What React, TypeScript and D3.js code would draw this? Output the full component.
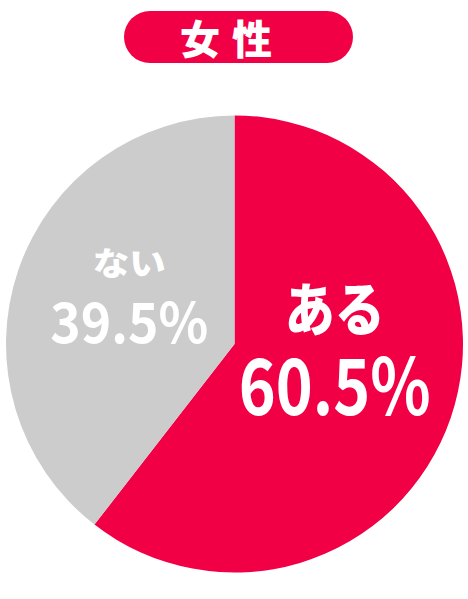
import React, { useEffect, useRef } from 'react';
import * as d3 from 'd3';

// data
const title = '女性';
const categories = ['ある', 'ない'];
const values = [60.5, 39.5];
const colors = ['#F20045', '#CCCCCC'];

const W = 468;
const H = 599;

const App: React.FC = () => {
  const svgRef = useRef<SVGSVGElement>(null);

  useEffect(() => {
    if (!svgRef.current) return;
    const svg = d3.select(svgRef.current);
    svg.selectAll('*').remove();

    const font = '"Noto Sans CJK JP", "Noto Sans", sans-serif';
    const cx = 234.5;
    const cy = 344;
    const radius = 228.5;

    // Title pill
    const head = svg.append('g');
    head.append('rect')
      .attr('x', 124)
      .attr('y', 11)
      .attr('width', 229)
      .attr('height', 52)
      .attr('rx', 26)
      .attr('fill', colors[0]);
    head.append('text')
      .attr('x', 232)
      .attr('y', 37)
      .attr('text-anchor', 'middle')
      .attr('dominant-baseline', 'central')
      .attr('fill', '#fff')
      .style('font-family', font)
      .style('font-weight', 900)
      .style('font-size', '40px')
      .style('letter-spacing', '12px')
      .text(title);

    const pie = d3.pie<number>().sort(null).value(d => d);
    const arcs = pie(values);
    const arc = d3.arc<d3.PieArcDatum<number>>().innerRadius(0).outerRadius(radius);

    const g = svg.append('g').attr('transform', `translate(${cx},${cy})`);

    g.selectAll('path')
      .data(arcs)
      .enter()
      .append('path')
      .attr('d', arc)
      .attr('fill', (_, i) => colors[i]);

    // Labels - big one for the larger slice
    const labelArc = d3.arc<d3.PieArcDatum<number>>().innerRadius(108).outerRadius(108);
    const styles = [
      { name: 58, value: 78, nameDy: -73, valueDy: 2.5, nameW: 100, valueW: 192, dx: -2 },
      { name: 32, value: 56, nameDy: -48.5, valueDy: 9.5, nameW: 73, valueW: 158, dx: -3 },
    ];

    arcs.forEach((a, i) => {
      const [x, y] = labelArc.centroid(a);
      const s = styles[i];
      g.append('text')
        .attr('x', x + s.dx)
        .attr('y', y + s.nameDy)
        .attr('text-anchor', 'middle')
        .attr('dominant-baseline', 'central')
        .attr('fill', '#fff')
        .attr('textLength', s.nameW)
        .attr('lengthAdjust', 'spacingAndGlyphs')
        .style('font-family', font)
        .style('font-weight', 900)
        .style('font-size', `${s.name}px`)
        .text(categories[i]);
      g.append('text')
        .attr('x', x + s.dx)
        .attr('y', y + s.valueDy)
        .attr('text-anchor', 'middle')
        .attr('dominant-baseline', 'central')
        .attr('fill', '#fff')
        .attr('textLength', s.valueW)
        .attr('lengthAdjust', 'spacingAndGlyphs')
        .style('font-family', font)
        .style('font-weight', 700)
        .style('font-size', `${s.value}px`)
        .text(`${values[i]}%`);
    });
  }, []);

  return (
    <svg
      ref={svgRef}
      width={W}
      height={H}
      style={{ position: 'absolute', left: 0, top: 0, background: '#fff' }}
    />
  );
};

export default App;
